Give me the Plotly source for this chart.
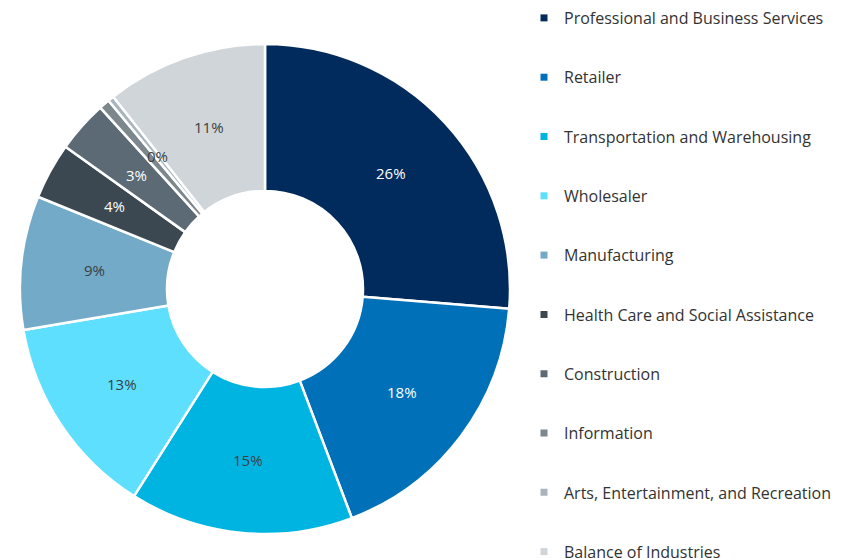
import math
import plotly.graph_objects as go

categories = [
    "Professional and Business Services",
    "Retailer",
    "Transportation and Warehousing",
    "Wholesaler",
    "Manufacturing",
    "Health Care and Social Assistance",
    "Construction",
    "Information",
    "Arts, Entertainment, and Recreation",
    "Balance of Industries",
]
values = [26.2, 17.9, 14.7, 13.3, 8.8, 3.7, 3.4, 0.7, 0.4, 10.6]
colors = ["#002B5C", "#0070B9", "#00B4E1", "#5DDFFD", "#72AAC7",
          "#3B4852", "#5B6A75", "#7D878E", "#A9B4BD", "#D0D5DA"]
text_colors = ["#FFFFFF", "#FFFFFF", "#3A3F44", "#3A3F44", "#3A3F44",
               "#FFFFFF", "#FFFFFF", "#FFFFFF", "#3A3F44", "#3A3F44"]
show_label = [True, True, True, True, True, True, True, False, True, True]

W, H = 848, 558
cx, cy, R = 257, 281, 245
hole = 0.40
LFONT = 16
ITEM_H = LFONT * 1.3 + 3
SPACING = 59.3

total = sum(values)

fig = go.Figure()
fig.add_trace(go.Pie(
    labels=categories,
    values=values,
    textinfo="none",
    hole=hole,
    sort=False,
    direction="clockwise",
    rotation=0,
    marker=dict(colors=colors, line=dict(color="white", width=2.5)),
    showlegend=False,
    domain=dict(x=[(cx - R) / W, (cx + R) / W], y=[(H - cy - R) / H, (H - cy + R) / H]),
))

# percentage labels on the ring's midline at each slice's mid-angle
annotations = []
cum = 0
for i, v in enumerate(values):
    mid = (cum + v / 2) / total * 2 * math.pi
    cum += v
    if not show_label[i]:
        continue
    r = R * (1 + hole) / 2
    px = cx + r * math.sin(mid)
    py = cy - r * math.cos(mid)
    annotations.append(dict(
        x=px / W, y=1 - py / H, xref="paper", yref="paper",
        xanchor="center", yanchor="middle",
        text=f"{round(100 * v / total)}%", showarrow=False,
        font=dict(family="Open Sans", size=15, color=text_colors[i]),
    ))

for i, c in enumerate(categories):
    fig.add_trace(go.Scatter(
        x=[None], y=[None], mode="markers", name=c,
        marker=dict(symbol="square", size=7, color=colors[i]),
        legendgroup=f"g{i}", showlegend=True,
        legend="legend" if i < 5 else "legend2",
    ))

first_center = 17
offset = 24
legend_common = dict(
    xanchor="left", yanchor="top",
    x=(564 - 48) / W,
    font=dict(family="Open Sans", size=LFONT, color="#333333"),
    tracegroupgap=SPACING - ITEM_H, itemclick=False, itemdoubleclick=False,
    bgcolor="rgba(0,0,0,0)",
)

fig.update_layout(
    width=W, height=H,
    margin=dict(l=0, r=0, t=0, b=0, autoexpand=False),
    paper_bgcolor="white", plot_bgcolor="white",
    xaxis=dict(visible=False), yaxis=dict(visible=False),
    annotations=annotations,
    legend=dict(y=1 - (first_center - offset) / H, **legend_common),
    legend2=dict(y=1 - (first_center + 5 * SPACING - offset) / H, **legend_common),
    font=dict(family="Open Sans"),
)

fig.write_html("out.html")
